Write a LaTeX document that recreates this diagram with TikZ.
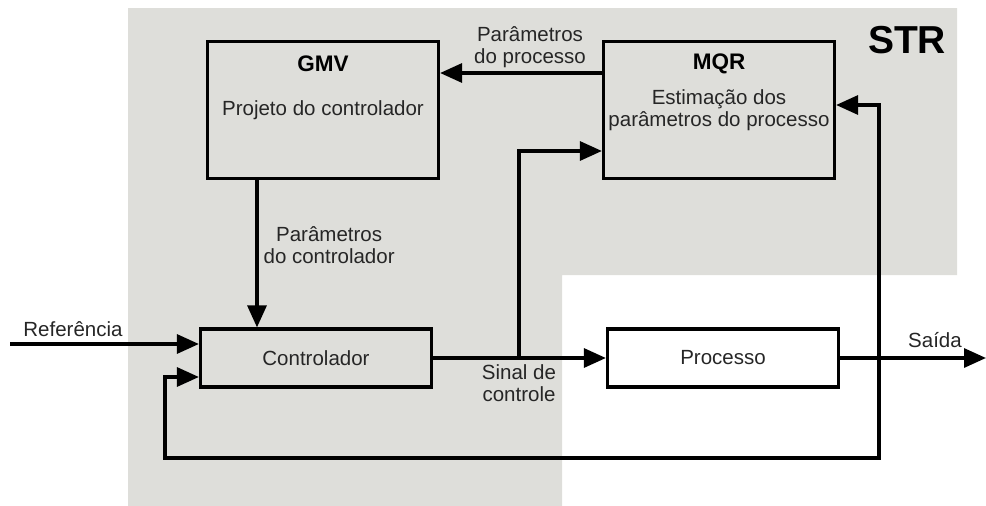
\documentclass[tikz,border=0pt]{standalone}
\usepackage{fontspec}
\setmainfont{Liberation Sans}
\usetikzlibrary{arrows.meta,positioning}
\definecolor{strgray}{RGB}{222,222,218}

\begin{document}
\begin{tikzpicture}[x=1pt,y=-1pt,line width=3.2pt,
    bloco/.style={draw,minimum width=231pt,inner sep=0pt},
    txt/.style={font=\fontsize{20.5}{22}\selectfont,align=center,inner sep=0pt,text=black!85},
    tit/.style={font=\fontsize{22.5}{26}\selectfont\bfseries,inner sep=0pt},
    seta/.style={-{Triangle[length=22pt,width=19pt]}}]
    \useasboundingbox (0,0) rectangle (986,506);
    \fill[strgray] (128,8) -- (957,8) -- (957,275) -- (562,275) -- (562,506) -- (128,506) -- cycle;
    \node[tit,font=\fontsize{39}{40}\selectfont\bfseries] (str) at (907,40) {STR};
    \node[bloco,minimum height=137pt] (gmv) at (323,110) {};
    \node[bloco,minimum height=137pt] (mqr) at (719,110) {};
    \node[bloco,minimum height=58pt] (ctrl) at (316,358) {};
    \node[bloco,minimum height=58pt] (proc) at (723,358) {};
    \node[tit] (gmvt) at ([yshift=-24pt]gmv.north) {GMV};
    \node[txt] (gmvb) at (gmv.center) {Projeto do controlador};
    \node[tit] (mqrt) at ([yshift=-24pt]mqr.north) {MQR};
    \node[txt] (mqrb) at (mqr.center) {Estimação dos\\parâmetros do processo};
    \node[txt] (ctrlt) at (ctrl.center) {Controlador};
    \node[txt] (proct) at (proc.center) {Processo};
    \coordinate (ref) at (10,344);
    \coordinate (br) at (519,358);
    \coordinate (tap) at (879,358);
    \coordinate (out) at (986,358);
    \draw[seta] ([yshift=37pt]mqr.west) -- ([yshift=37pt]mqr.west -| gmv.east)
      node[txt,midway,above=4pt,xshift=9pt] (ppar) {Parâmetros\\do processo};
    \draw[seta] ([xshift=-66pt]gmv.south) -- ([xshift=-66pt]gmv.south |- ctrl.north);
    \node[txt,anchor=west] (pctrl) at (262,245) {Parâmetros\\do controlador};
    \draw[seta] (ref) -- (ref -| ctrl.west);
    \node[txt,anchor=base] (reft) at (73,336) {Referência};
    \draw[seta] (ctrl.east) -- (proc.west);
    \draw[seta] (br) |- ([yshift=-41pt]mqr.west);
    \node[txt] (sinal) at (519,383) {Sinal de\\controle};
    \draw[seta] (proc.east) -- (out);
    \node[txt,anchor=base] (said) at (935,347) {Saída};
    \draw[seta] (tap) |- ([yshift=5pt]mqr.east);
    \draw[seta] (tap) |- (165,458) |- ([yshift=-19pt]ctrl.west);
\end{tikzpicture}
\end{document}
